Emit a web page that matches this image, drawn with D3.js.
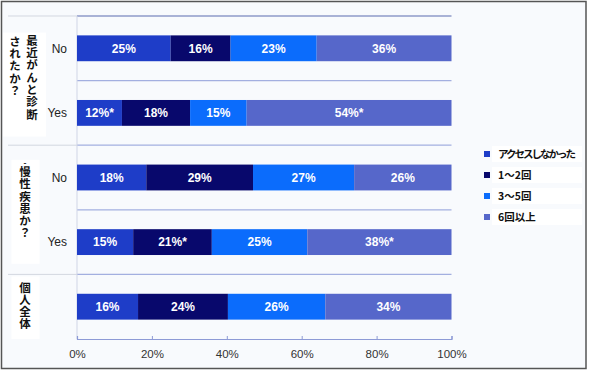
<!DOCTYPE html>
<html>
<head>
<meta charset="utf-8">
<script src="https://cdn.jsdelivr.net/npm/d3@7"></script>
<style>
  body { margin: 0; background: #fff; }
  svg { display: block; }
</style>
</head>
<body>
<svg id="chart"></svg>
<script>
// categories (rows top to bottom)
const rows = ['cancerNo', 'cancerYes', 'chronicNo', 'chronicYes', 'all'];
const rowLabels = ['No', 'Yes', 'No', 'Yes', ''];
const seriesNames = ['アクセスしなかった', '1～2回', '3～5回', '6回以上'];

// series values (% share per row)
const noAccess = [25, 12.0, 18.5, 15.0, 16.3];
const times1to2 = [16, 18.2, 28.5, 21.0, 24.0];
const times3to5 = [23, 15.1, 27.0, 25.5, 26.0];
const times6plus = [36, 54.7, 26.0, 38.5, 33.7];

// printed labels
const noAccessLbl = ['25%', '12%*', '18%', '15%', '16%'];
const times1to2Lbl = ['16%', '18%', '29%', '21%*', '24%'];
const times3to5Lbl = ['23%', '15%', '27%', '25%', '26%'];
const times6plusLbl = ['36%', '54%*', '26%', '38%*', '34%'];

const xTicks = [0, 20, 40, 60, 80, 100];

// groups of rows with their vertical titles (columns right to left)
const groups = [
  { rows: [0, 1], columns: ['最近がんと診断', 'されたか？'] },
  { rows: [2, 3], columns: ['-', '慢性疾患か？'] },
  { rows: [4, 4], columns: ['個人全体'] }
];

const colors = ['#1e3dc8', '#08086c', '#0b6cfc', '#5667ca'];

const width = 590, height = 371;
const svg = d3.select('#chart').attr('width', width).attr('height', height);

svg.append('rect')
  .attr('x', 1.5).attr('y', 1.5)
  .attr('width', 584.5).attr('height', 367)
  .attr('fill', '#f8fafd')
  .attr('stroke', '#555').attr('stroke-width', 1.5);

const x = d3.scaleLinear().domain([0, 100]).range([77, 451.5]);
const y = d3.scaleBand().domain(rows).range([16, 339])
  .paddingInner(0.6).paddingOuter(0.3);
const step = y.step();
const bandTop = (i) => 16 + i * step;

const table = rows.map((r, i) => ({
  row: r,
  values: [noAccess[i], times1to2[i], times3to5[i], times6plus[i]],
  labels: [noAccessLbl[i], times1to2Lbl[i], times3to5Lbl[i], times6plusLbl[i]]
}));

// horizontal separators
const sepGroup = svg.append('g');
for (let i = 0; i < rows.length; i++) {
  const isGroupTop = groups.some(g => g.rows[0] === i);
  if (isGroupTop) {
    sepGroup.append('line')
      .attr('x1', 8).attr('x2', x(0))
      .attr('y1', bandTop(i)).attr('y2', bandTop(i))
      .attr('stroke', '#d3d7e0').attr('stroke-width', 1);
  }
  sepGroup.append('line')
    .attr('x1', x(0)).attr('x2', x(100))
    .attr('y1', bandTop(i)).attr('y2', bandTop(i))
    .attr('stroke', i === 0 ? '#5b6bb0' : '#a3afe0')
    .attr('stroke-width', 1.2);
}

// vertical baseline
svg.append('line')
  .attr('x1', x(0)).attr('x2', x(0))
  .attr('y1', 16).attr('y2', 339)
  .attr('stroke', '#d0d5e6').attr('stroke-width', 1);

// bars
const stack = svg.append('g').selectAll('g')
  .data(table)
  .join('g');

stack.each(function (d) {
  const g = d3.select(this);
  let acc = 0;
  d.values.forEach((v, k) => {
    const x0 = acc;
    acc += v;
    g.append('rect')
      .attr('x', x(x0))
      .attr('y', y(d.row))
      .attr('width', x(acc) - x(x0))
      .attr('height', y.bandwidth())
      .attr('fill', colors[k]);
    g.append('text')
      .attr('x', (x(x0) + x(acc)) / 2)
      .attr('y', y(d.row) + y.bandwidth() / 2)
      .attr('dy', '0.36em')
      .attr('text-anchor', 'middle')
      .attr('fill', '#fff')
      .style('font-family', '"Liberation Sans", Arial, sans-serif')
      .style('font-weight', 'bold')
      .style('font-size', '12px')
      .text(d.labels[k]);
  });
});

// row labels
svg.append('g').selectAll('text')
  .data(table)
  .join('text')
  .attr('x', 67)
  .attr('y', (d) => y(d.row) + y.bandwidth() / 2)
  .attr('dy', '0.36em')
  .attr('text-anchor', 'end')
  .attr('fill', '#222')
  .style('font-family', '"Liberation Sans", Arial, sans-serif')
  .style('font-size', '12px')
  .text((d, i) => rowLabels[i]);

// x axis
const axis = svg.append('g')
  .attr('transform', 'translate(0,339)')
  .call(d3.axisBottom(x).tickValues(xTicks).tickFormat(d => d + '%').tickSize(-3).tickPadding(11));
axis.select('.domain').attr('stroke', '#8d9ad6').attr('stroke-width', 1.2);
axis.selectAll('.tick line').attr('stroke', '#8d9ad6');
axis.selectAll('.tick text')
  .attr('fill', '#333')
  .style('font-family', '"Liberation Sans", Arial, sans-serif')
  .style('font-size', '11.5px');

// group titles (vertical text on white boxes)
const cjk = '"Noto Sans CJK JP", sans-serif';
groups.forEach((grp) => {
  const top = bandTop(grp.rows[0]);
  const bottom = bandTop(grp.rows[1] + 1);
  const single = grp.rows[0] === grp.rows[1];
  const twoCols = grp.columns.length > 1 && grp.columns[0] !== '-';
  const boxW = twoCols ? 43 : 28;
  const boxH = single ? bottom - top - 2 : 104;
  const cx = twoCols ? 24.5 : 25.5;
  const boxTop = single ? top + 2 : (top + bottom) / 2 - boxH / 2 + (twoCols ? 4 : 2);
  svg.append('rect')
    .attr('x', cx - boxW / 2).attr('y', boxTop)
    .attr('width', boxW).attr('height', boxH)
    .attr('fill', '#fff');
  grp.columns.forEach((col, ci) => {
    const dash = col === '-';
    let colX, startY;
    if (twoCols) { colX = ci === 0 ? 32 : 15; startY = boxTop + 2 + ci; }
    else if (dash) { colX = 25; startY = boxTop - 1; }
    else { colX = 25; startY = boxTop + (single ? 5 : 6); }
    svg.append('text')
      .attr('x', colX)
      .attr('y', startY)
      .attr('fill', '#111')
      .style('writing-mode', 'vertical-rl')
      .style('text-orientation', dash ? 'upright' : 'mixed')
      .style('font-family', cjk)
      .style('font-weight', 'bold')
      .style('font-size', dash ? '8px' : '11.5px')
      .style('letter-spacing', '0.8px')
      .text(col);
  });
});

// legend
const legend = svg.append('g').selectAll('g')
  .data(seriesNames)
  .join('g')
  .attr('transform', (d, i) => `translate(487,${154 + i * 21})`);
legend.append('rect')
  .attr('x', 5).attr('y', -8)
  .attr('width', 90).attr('height', 16)
  .attr('fill', '#fff');
legend.append('rect')
  .attr('x', -3).attr('y', -3)
  .attr('width', 6).attr('height', 6)
  .attr('fill', (d, i) => colors[i]);
legend.append('text')
  .attr('x', 11)
  .attr('dy', '0.36em')
  .attr('fill', '#111')
  .style('font-family', cjk)
  .style('font-weight', 'bold')
  .style('font-size', '10.5px')
  .style('letter-spacing', (d) => d.length > 6 ? '-2px' : '0px')
  .text(d => d);
</script>
</body>
</html>
